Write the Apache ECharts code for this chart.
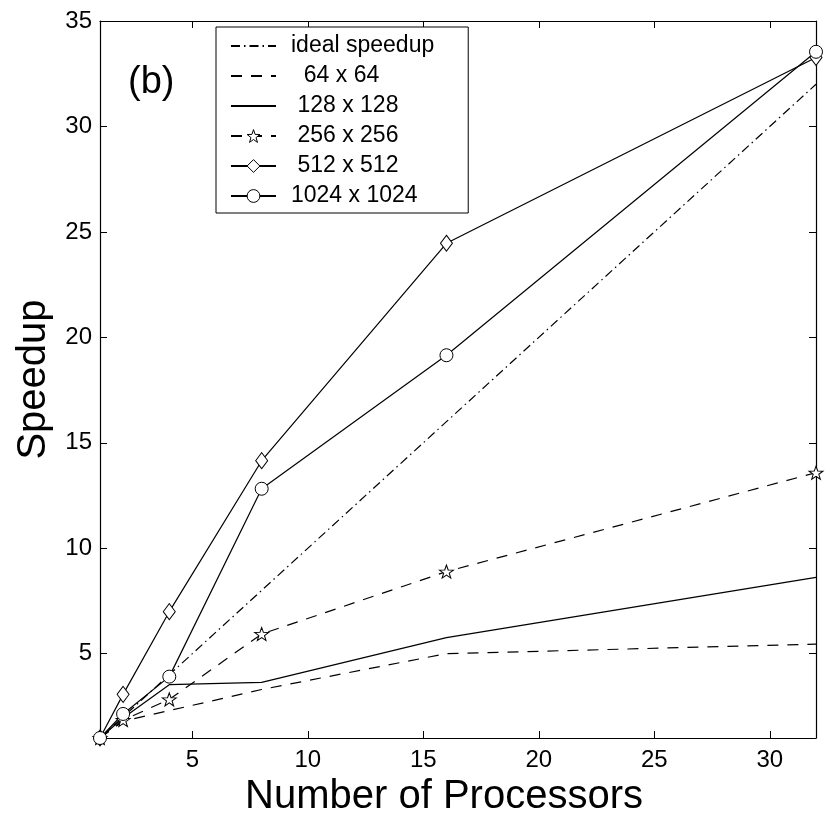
<!DOCTYPE html>
<html>
<head>
<meta charset="utf-8">
<script src="https://cdn.jsdelivr.net/npm/echarts@6/dist/echarts.min.js"></script>
<style>
html, body { margin: 0; padding: 0; background: #fff; }
#chart-container { width: 830px; height: 824px; }
</style>
</head>
<body>
<div id="chart-container"></div>
<script>
// 數據
var procs = [1, 2, 4, 8, 16, 32];
var ideal = [1, 2, 4, 8, 16, 32];
var s64 = [1, 1.8, 2.3, 3.3, 5.0, 5.45];
var s128 = [1, 1.95, 3.53, 3.64, 5.76, 8.62];
var s256 = [1, 1.85, 2.83, 5.93, 8.89, 13.58];
var s512 = [1, 3.07, 6.99, 14.15, 24.46, 33.27];
var s1024 = [1, 2.14, 3.91, 12.82, 19.15, 33.54];
var seriesNames = ['ideal speedup', '64 x 64', '128 x 128', '256 x 256', '512 x 512', '1024 x 1024'];
var legendPad = ['', '  ', ' ', ' ', ' ', ''];
var hasMarker = [false, false, false, true, true, true];
var xTicks = [5, 10, 15, 20, 25, 30];
var yTicks = [5, 10, 15, 20, 25, 30, 35];

var font = "'Liberation Sans', Arial, Helvetica, sans-serif";
var starPath = 'path://M0,-10L2.35,-3.24L9.51,-3.09L3.8,1.24L5.88,8.09L0,4L-5.88,8.09L-3.8,1.24L-9.51,-3.09L-2.35,-3.24Z';

function pairs(vals) {
    return procs.map(function(p, i) { return [p, vals[i]]; });
}

function makeSeries(name, vals, dash, symbol, size) {
    return {
        name: name,
        type: 'line',
        data: pairs(vals),
        clip: false,
        symbol: symbol || 'none',
        symbolSize: size || 0,
        showSymbol: !!symbol,
        lineStyle: { color: '#000', width: 1.2, type: dash },
        itemStyle: { color: '#fff', borderColor: '#000', borderWidth: 1 },
        emphasis: { disabled: true },
        animation: false
    };
}

// 座標軸 (四邊都有刻度, 刻度朝內)
function axisBase(extra) {
    var a = {
        type: 'value',
        axisLine: { show: true, lineStyle: { color: '#000', width: 1.2 } },
        axisTick: { show: true, inside: true, length: 7, lineStyle: { color: '#000', width: 1 } },
        splitLine: { show: false },
        axisLabel: { show: false }
    };
    for (var k in extra) a[k] = extra[k];
    return a;
}

// 圖例: 沒有標記的線把符號隱藏
var legendData = seriesNames.map(function(n, i) {
    return hasMarker[i] ? { name: n } : { name: n, itemStyle: { opacity: 0 } };
});

var chart = echarts.init(document.getElementById('chart-container'));

var option = {
    backgroundColor: '#fff',
    animation: false,
    grid: {
        left: 100,
        right: 14,
        top: 21,
        bottom: 86,
        outerBoundsMode: 'none'
    },
    title: {
        text: '(b)',
        left: 128,
        top: 64,
        padding: 0,
        textStyle: { fontFamily: font, fontSize: 38, fontWeight: 'normal', color: '#000' }
    },
    legend: {
        orient: 'vertical',
        left: 216,
        top: 27,
        itemWidth: 45,
        itemHeight: 16,
        itemGap: 0,
        padding: [4, 34, 2, 14],
        borderColor: '#000',
        borderWidth: 1,
        backgroundColor: '#fff',
        itemStyle: { borderWidth: 1 },
        textStyle: { fontFamily: font, fontSize: 23, color: '#000', lineHeight: 30, padding: [0, 0, 0, 10] },
        formatter: function(name) {
            return legendPad[seriesNames.indexOf(name)] + name;
        },
        data: legendData
    },
    xAxis: [
        axisBase({
            min: 1,
            max: 32,
            position: 'bottom',
            name: 'Number of Processors',
            nameLocation: 'middle',
            nameGap: 32,
            nameTextStyle: { fontFamily: font, fontSize: 40, color: '#000', padding: [0, 28, 0, 0] },
            axisTick: { show: true, inside: true, length: 7, customValues: xTicks, lineStyle: { color: '#000' } },
            axisLabel: { show: true, customValues: xTicks, margin: 10, fontFamily: font, fontSize: 24, color: '#000' }
        }),
        axisBase({
            min: 1,
            max: 32,
            position: 'top',
            axisTick: { show: true, inside: true, length: 7, customValues: xTicks, lineStyle: { color: '#000' } }
        })
    ],
    yAxis: [
        axisBase({
            min: 1,
            max: 35,
            position: 'left',
            name: 'Speedup',
            nameLocation: 'middle',
            nameGap: 45,
            nameTextStyle: { fontFamily: font, fontSize: 40, color: '#000' },
            axisTick: { show: true, inside: true, length: 7, customValues: yTicks, lineStyle: { color: '#000' } },
            axisLabel: { show: true, customValues: yTicks, margin: 8, fontFamily: font, fontSize: 24, color: '#000' }
        }),
        axisBase({
            min: 1,
            max: 35,
            position: 'right',
            axisTick: { show: true, inside: true, length: 7, customValues: yTicks, lineStyle: { color: '#000' } }
        })
    ],
    series: [
        makeSeries(seriesNames[0], ideal, [9, 4, 1.5, 4]),
        makeSeries(seriesNames[1], s64, [11, 9]),
        makeSeries(seriesNames[2], s128, 'solid'),
        makeSeries(seriesNames[3], s256, [11, 9], starPath, [14, 13]),
        makeSeries(seriesNames[4], s512, 'solid', 'diamond', [12, 16]),
        makeSeries(seriesNames[5], s1024, 'solid', 'circle', 13)
    ]
};

chart.setOption(option);
</script>
</body>
</html>
